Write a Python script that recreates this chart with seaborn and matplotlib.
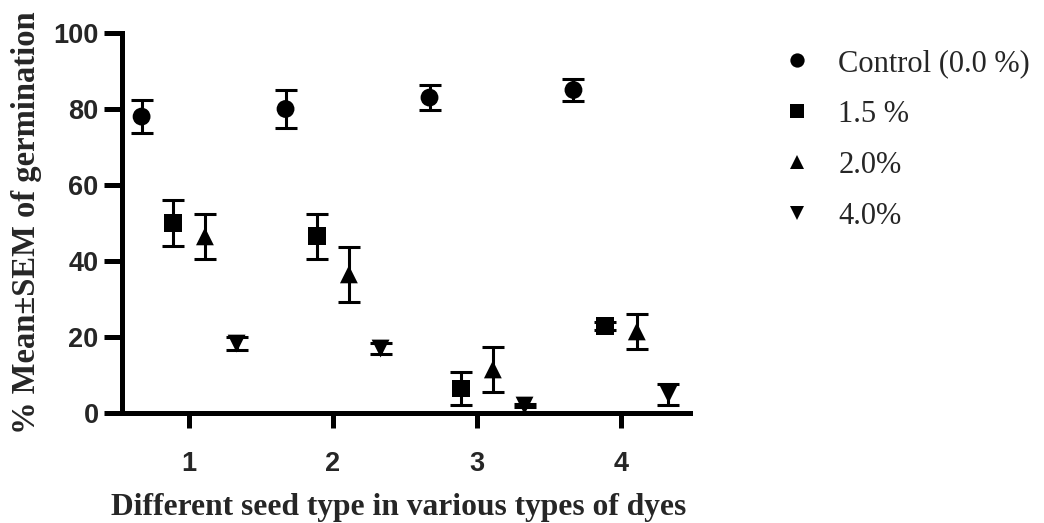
import numpy as np
import pandas as pd
import matplotlib
matplotlib.use("Agg")
import matplotlib.pyplot as plt
import seaborn as sns

# ---- data ----
seed_types = [1, 2, 3, 4]
dose_labels = ["Control (0.0 %)", "1.5 %", "2.0%", "4.0%"]
control_mean = [78.0, 80.0, 83.0, 85.0]
control_sem = [4.4, 5.0, 3.3, 3.0]
dose15_mean = [50.0, 46.5, 6.5, 23.0]
dose15_sem = [6.0, 6.0, 4.3, 1.0]
dose20_mean = [46.5, 36.5, 11.5, 21.5]
dose20_sem = [6.0, 7.2, 6.0, 4.5]
dose40_mean = [18.3, 17.0, 2.0, 5.0]
dose40_sem = [1.7, 1.5, 0.5, 2.8]
y_ticks = [0, 20, 40, 60, 80, 100]

means = [control_mean, dose15_mean, dose20_mean, dose40_mean]
sems = [control_sem, dose15_sem, dose20_sem, dose40_sem]
offsets = np.linspace(-0.33, 0.33, len(dose_labels))

rows = []
for lab, off, m, s in zip(dose_labels, offsets, means, sems):
    for st, mv, sv in zip(seed_types, m, s):
        rows.append({"seed": st, "pos": st + off, "dose": lab, "mean": mv, "sem": sv})
df = pd.DataFrame(rows)

sns.set_theme(style="ticks")
plt.rcParams["font.family"] = ["Liberation Sans", "DejaVu Sans"]

fig, ax = plt.subplots(figsize=(10.44, 5.23), dpi=100)
fig.subplots_adjust(left=0.117, right=0.661, top=0.937, bottom=0.21)

ax.errorbar(df["pos"], df["mean"], yerr=df["sem"], fmt="none", ecolor="black",
            elinewidth=2.2, capsize=8, capthick=2.2, zorder=2)

markers = {dose_labels[0]: "o", dose_labels[1]: "s", dose_labels[2]: "^", dose_labels[3]: "v"}
sns.scatterplot(data=df, x="pos", y="mean", style="dose", markers=markers,
                color="black", edgecolor="black", linewidth=0, s=165,
                ax=ax, zorder=3, legend=True)

handles, labels = ax.get_legend_handles_labels()
ax.get_legend().remove()
fig.legend(handles, labels, loc="upper left", bbox_to_anchor=(0.708, 0.959),
           frameon=False, markerscale=0.8, handletextpad=0.34, labelspacing=0.72,
           prop={"family": "Liberation Serif", "size": 22})

ax.set_xlim(0.535, 4.48)
ax.set_ylim(0, 100)
ax.set_xticks(seed_types)
ax.set_yticks(y_ticks)
ax.set_xticklabels([str(v) for v in seed_types])
ax.set_yticklabels([str(v) for v in y_ticks])
for lbl in ax.get_xticklabels() + ax.get_yticklabels():
    lbl.set_fontweight("bold")
    lbl.set_fontsize(19.5)
    lbl.set_family("Liberation Sans")

sns.despine(ax=ax)
for sp in ["left", "bottom"]:
    ax.spines[sp].set_linewidth(3.6)
    ax.spines[sp].set_color("black")
ax.tick_params(axis="y", length=13, width=3.6, color="black", pad=4)
ax.tick_params(axis="x", length=11, width=3.6, color="black", pad=16)

ax.set_xlabel("Different seed type in various types of dyes", fontsize=22.7,
              fontweight="bold", family="Liberation Serif", labelpad=12)
ax.xaxis.label.set_x(0.486)
ax.set_ylabel("% Mean±SEM of germination", fontsize=23.5,
              fontweight="bold", family="Liberation Serif", labelpad=8)

fig.savefig("out.png", dpi=100)
